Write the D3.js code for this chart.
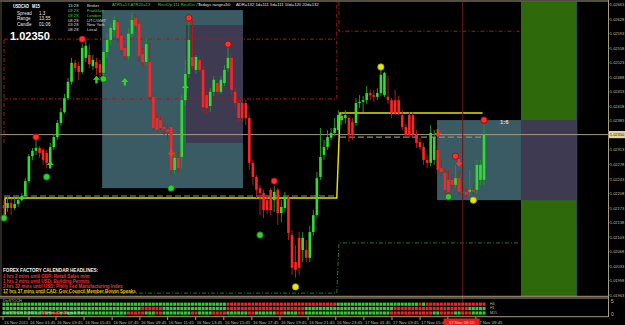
<!DOCTYPE html>
<html><head><meta charset="utf-8">
<script src="https://cdn.jsdelivr.net/npm/d3@7"></script>
<style>html,body{margin:0;padding:0;background:#000;overflow:hidden}svg{display:block}</style>
</head><body><svg id="c" width="625" height="325"></svg>
<script>
// ---------- DATA ----------
const symbol = "USDCAD", timeframe = "M15";
const open = [1.02180,1.02173,1.02185,1.02173,1.02183,1.02192,1.02202,1.02238,1.02298,1.02311,
1.02318,1.02313,1.02306,1.02282,1.02320,1.02344,1.02378,1.02404,1.02438,1.02477,
1.02523,1.02515,1.02501,1.02535,1.02542,1.02515,1.02525,1.02520,1.02499,1.02549,
1.02578,1.02602,1.02621,1.02588,1.02559,1.02539,1.02593,1.02631,1.02617,1.02544,
1.02525,1.02525,1.02441,1.02390,1.02385,1.02368,1.02363,1.02368,1.02265,1.02294,
1.02296,1.02433,1.02496,1.02537,1.02506,1.02530,1.02506,1.02445,1.02419,1.02453,
1.02474,1.02453,1.02474,1.02510,1.02535,1.02453,1.02426,1.02426,1.02426,1.02390,
1.02282,1.02248,1.02221,1.02209,1.02192,1.02217,1.02192,1.02217,1.02161,1.02173,
1.02197,1.02108,1.02043,1.02101,1.02072,1.02072,1.02053,1.02115,1.02156,1.02248,
1.02301,1.02320,1.02342,1.02354,1.02361,1.02385,1.02390,1.02390,1.02380,1.02378,
1.02426,1.02429,1.02433,1.02450,1.02445,1.02441,1.02450,1.02445,1.02441,1.02433,
1.02433,1.02433,1.02397,1.02368,1.02397,1.02397,1.02349,1.02332,1.02320,1.02289,
1.02282,1.02289,1.02313,1.02269,1.02258,1.02241,1.02241,1.02229,1.02245,1.02212,
1.02212,1.02212,1.02217,1.02217,1.02241,1.02241];
const high = [1.02192,1.02200,1.02195,1.02197,1.02202,1.02209,1.02245,1.02303,1.02318,1.02337,
1.02322,1.02318,1.02313,1.02330,1.02352,1.02385,1.02414,1.02448,1.02486,1.02535,
1.02530,1.02525,1.02568,1.02578,1.02568,1.02542,1.02535,1.02530,1.02554,1.02593,
1.02617,1.02636,1.02626,1.02597,1.02566,1.02607,1.02645,1.02641,1.02626,1.02559,
1.02583,1.02573,1.02445,1.02404,1.02395,1.02380,1.02373,1.02373,1.02308,1.02308,
1.02445,1.02530,1.02621,1.02626,1.02542,1.02539,1.02515,1.02458,1.02462,1.02491,
1.02486,1.02491,1.02518,1.02559,1.02542,1.02462,1.02433,1.02433,1.02433,1.02397,
1.02289,1.02253,1.02229,1.02217,1.02205,1.02221,1.02226,1.02221,1.02192,1.02212,
1.02205,1.02120,1.02084,1.02115,1.02115,1.02096,1.02130,1.02168,1.02260,1.02366,
1.02337,1.02361,1.02366,1.02390,1.02409,1.02404,1.02409,1.02397,1.02390,1.02438,
1.02445,1.02443,1.02467,1.02458,1.02458,1.02462,1.02506,1.02501,1.02491,1.02438,
1.02458,1.02443,1.02409,1.02376,1.02404,1.02404,1.02361,1.02342,1.02330,1.02301,
1.02373,1.02361,1.02349,1.02289,1.02269,1.02265,1.02253,1.02277,1.02265,1.02221,
1.02221,1.02265,1.02229,1.02289,1.02289,1.02373];
const low = [1.02139,1.02164,1.02156,1.02168,1.02176,1.02188,1.02197,1.02233,1.02289,1.02301,
1.02294,1.02277,1.02269,1.02274,1.02313,1.02337,1.02371,1.02400,1.02433,1.02470,
1.02501,1.02482,1.02496,1.02525,1.02510,1.02506,1.02494,1.02486,1.02491,1.02535,
1.02566,1.02588,1.02573,1.02542,1.02530,1.02530,1.02583,1.02602,1.02525,1.02513,
1.02518,1.02433,1.02356,1.02356,1.02361,1.02349,1.02337,1.02253,1.02255,1.02260,
1.02269,1.02421,1.02486,1.02506,1.02496,1.02501,1.02404,1.02400,1.02404,1.02443,
1.02445,1.02448,1.02467,1.02501,1.02445,1.02414,1.02380,1.02380,1.02373,1.02265,
1.02229,1.02197,1.02156,1.02149,1.02159,1.02156,1.02164,1.02132,1.02139,1.02164,
1.02096,1.02012,1.02004,1.02012,1.02043,1.02043,1.02043,1.02106,1.02149,1.02241,
1.02289,1.02313,1.02337,1.02347,1.02356,1.02373,1.02376,1.02332,1.02337,1.02371,
1.02414,1.02404,1.02424,1.02433,1.02429,1.02433,1.02443,1.02441,1.02424,1.02390,
1.02397,1.02397,1.02361,1.02342,1.02342,1.02342,1.02318,1.02313,1.02277,1.02269,
1.02274,1.02277,1.02253,1.02250,1.02205,1.02202,1.02217,1.02221,1.02202,1.02202,
1.02197,1.02202,1.02202,1.02207,1.02229,1.02229];
const close = [1.02173,1.02185,1.02173,1.02183,1.02192,1.02202,1.02238,1.02298,1.02311,1.02318,
1.02306,1.02289,1.02282,1.02320,1.02344,1.02378,1.02404,1.02438,1.02477,1.02523,
1.02510,1.02501,1.02559,1.02564,1.02520,1.02530,1.02510,1.02499,1.02549,1.02578,
1.02607,1.02626,1.02583,1.02554,1.02539,1.02593,1.02626,1.02612,1.02539,1.02525,
1.02568,1.02441,1.02366,1.02361,1.02366,1.02363,1.02356,1.02265,1.02294,1.02269,
1.02433,1.02496,1.02578,1.02515,1.02537,1.02506,1.02416,1.02414,1.02453,1.02482,
1.02453,1.02482,1.02506,1.02535,1.02458,1.02426,1.02390,1.02390,1.02390,1.02282,
1.02248,1.02217,1.02209,1.02168,1.02168,1.02168,1.02212,1.02161,1.02176,1.02200,
1.02113,1.02029,1.02024,1.02029,1.02101,1.02053,1.02115,1.02156,1.02245,1.02296,
1.02320,1.02344,1.02354,1.02366,1.02397,1.02395,1.02397,1.02349,1.02349,1.02426,
1.02429,1.02433,1.02450,1.02445,1.02441,1.02450,1.02494,1.02499,1.02433,1.02402,
1.02402,1.02402,1.02368,1.02349,1.02349,1.02349,1.02330,1.02320,1.02289,1.02282,
1.02354,1.02344,1.02265,1.02260,1.02217,1.02212,1.02229,1.02245,1.02212,1.02209,
1.02205,1.02217,1.02212,1.02277,1.02277,1.02350];

const priceTicks = [1.02663,1.02628,1.02593,1.02558,1.02523,1.02488,1.02453,1.02418,1.02383,
  1.02313,1.02278,1.02243,1.02208,1.02173,1.02138,1.02103,1.02068,1.02033,1.01998,1.01963];
const timeTickBars = [0,7.3,14.9,22.8,30.7,38.5,46.3,54.2,62.1,70,77.9,85.8,93.6,101.5,109.4,117.3,125.1,133];
const timeTickLabels = ["16 Nov 2011","16 Nov 01:45","16 Nov 03:45","16 Nov 05:45","16 Nov 07:45","16 Nov 09:45",
  "16 Nov 11:45","16 Nov 13:45","16 Nov 15:45","16 Nov 17:45","16 Nov 19:45","16 Nov 21:45","16 Nov 23:45",
  "17 Nov 01:45","17 Nov 03:45","17 Nov 05:45","17 Nov 07:45","17 Nov 09:45"];
const cursorBar = 129, cursorLabel = "17 Nov 08:15";

const sessionBoxes = [{from:27.6,to:67.2,hi:1.02650,lo:1.02221},{from:121.8,to:161.1,hi:1.02385,lo:1.02192}];
const overlapBoxes = [{from:51.2,to:67.2,hi:1.02614,lo:1.02330},{from:145.4,to:161.1,hi:1.02385,lo:1.02192}];
const futureZone = {from:145.4,to:161.1};

const resistanceLines = [
  [[0,1.02580],[93.6,1.02580]],
  [[0,1.02330],[0,1.02580]],
  [[0,1.02436],[93.6,1.02436],[93.6,1.02670]],
  [[94.2,1.02670],[94.2,1.02599],[145,1.02599]]];
const supportLines = [[[0,1.01968],[93.6,1.01968],[94.2,1.02089],[145,1.02089]]];
const pivotLines = [[[0,1.02202],[93.6,1.02202]],[[94.5,1.02344],[134.6,1.02344]]];
const dailyOpenLine = [[0.3,1.02144],[0.3,1.02197],[93.6,1.02197],[94.5,1.02402],[134.6,1.02402]];

const highDots = [[9,1.02344],[22,1.02580],[52,1.02631],[63,1.02568],[76,1.02238],[127,1.02298],[135,1.02385]];
const lowDots = [[0,1.02149],[12,1.02248],[28,1.02484],[47,1.02221],[72,1.02108],[125,1.02200]];
const extremeDots = [[82,1.01983],[106,1.02513],[132,1.02192]];
const buyArrows = [[13,1.02277],[26,1.02482],[34,1.02477],[51,1.02462]];
const sellArrows = [[47,1.02306],[122,1.02354],[128,1.02282]];

const riskReward = {bar:139.5, price:1.02375, text:"1:6"};

const ffHeader = "FOREX FACTORY CALENDAR HEADLINES:";
const ffLines = ["1 hrs 2 mins until GBP: Retail Sales m/m","1 hrs 2 mins until USD: Building Permits",
  "2 hrs 32 mins until USD: Philly Fed Manufacturing Index","17 hrs 37 mins until CAD: Gov Council Member Boivin Speaks"];
const ffImpact = ["high","high","high","medium"];

const infoLabels = ["Spread","Range","Candle"];
const infoValues = ["1.3","13.55","01:06"];
const clockTimes = ["15:28","09:28","08:28","08:28","03:28","08:28"];
const clockNames = ["Broker","Frankfurt","London","UTC/GMT","New York","Local"];
const clockOpen = [false,true,true,false,false,false];
const statusItems = ["ATR5=13  ATR20=13","RestUp 111  RestDn 73","Todays range=50","ADR=132  1d=111  5d=111  10d=120  20d=132"];

const panelName = "DivSTOCH";
const panelNote = "DivSTOCH 3 (M15): 355 Hist+Cnt Signal: Sell";
const panelRowNames = ["H4","H1","M15"];
const panelRuns = [
  [["g",63],["r",31],["g",23],["r",1],["g",1],["r",17]],
  [["g",39],["r",6],["g",18],["r",22],["g",25],["r",21],["g",5]],
  [["g",11],["r",1],["g",2],["r",2],["g",1],["r",1],["g",17],["r",5],["g",3],["r",2],["g",8],["r",2],["g",4],["r",4],
   ["g",6],["r",2],["g",6],["r",2],["g",4],["r",2],["g",24],["r",12],["g",2],["r",4],["g",2],["r",3],["g",4]]];
const panelTicks = ["5","0"];

// ---------- DRAW ----------
const svg = d3.select("#c");
const FONT = "'Liberation Sans', Arial, sans-serif";
const W = 625, plotR = 608, plotT = 1.5, plotB = 296;
const x = d3.scaleLinear().domain([0,135]).range([4,484]);
const y = d3.scaleLinear().domain([1.01963,1.02663]).range([295.2,4.7]);
const frameCol = "#a89c7e";

svg.append("rect").attr("width",W).attr("height",325).attr("fill","#000");
svg.append("defs").append("clipPath").attr("id","plot").append("rect")
  .attr("x",0).attr("y",plotT).attr("width",plotR).attr("height",plotB-plotT);
const g = svg.append("g").attr("clip-path","url(#plot)");

// future zone
g.append("rect").attr("x",x(futureZone.from)).attr("y",plotT).attr("width",x(futureZone.to)-x(futureZone.from))
  .attr("height",plotB-plotT).attr("fill","#2e690c");
g.append("line").attr("x1",x(futureZone.to)).attr("x2",x(futureZone.to)).attr("y1",plotT).attr("y2",plotB)
  .attr("stroke","#2b4a86").attr("stroke-width",1);

// session boxes
g.selectAll("rect.sess").data(sessionBoxes).join("rect")
  .attr("x",d=>x(d.from)).attr("y",d=>y(d.hi)).attr("width",d=>x(d.to)-x(d.from)).attr("height",d=>y(d.lo)-y(d.hi))
  .attr("fill","#3b5b64");
g.selectAll("rect.ovl").data(overlapBoxes).join("rect")
  .attr("x",d=>x(d.from)).attr("y",d=>y(d.hi)).attr("width",d=>x(d.to)-x(d.from)).attr("height",d=>y(d.lo)-y(d.hi))
  .attr("fill","#3e3a52");

const line = d3.line().x(d=>x(d[0])).y(d=>y(d[1]));
g.selectAll("path.res").data(resistanceLines).join("path").attr("d",line).attr("fill","none")
  .attr("stroke","#9c1c1c").attr("stroke-width",1).attr("stroke-dasharray","4,2,1,2");
g.selectAll("path.sup").data(supportLines).join("path").attr("d",line).attr("fill","none")
  .attr("stroke","#1c7a2c").attr("stroke-width",1).attr("stroke-dasharray","4,2,1,2");
g.selectAll("path.piv").data(pivotLines).join("path").attr("d",line).attr("fill","none")
  .attr("stroke","#8a8a8a").attr("stroke-width",1.2).attr("stroke-dasharray","6,3");
g.append("path").attr("d",line(dailyOpenLine)).attr("fill","none").attr("stroke","#e6e000").attr("stroke-width",1.5);

// current price line
const last = close[close.length-1];
g.append("line").attr("x1",0).attr("x2",plotR).attr("y1",y(last)).attr("y2",y(last))
  .attr("stroke","#a39a80").attr("stroke-width",1);
// cursor line
svg.append("line").attr("x1",x(cursorBar)).attr("x2",x(cursorBar)).attr("y1",plotT).attr("y2",317)
  .attr("stroke","#6e1515").attr("stroke-width",1);

// candles
const bars = open.map((o,i)=>({i,o,h:high[i],l:low[i],c:close[i],up:close[i]>=o}));
g.selectAll("line.wick").data(bars).join("line")
  .attr("x1",d=>x(d.i)).attr("x2",d=>x(d.i)).attr("y1",d=>y(d.h)).attr("y2",d=>y(d.l))
  .attr("stroke",d=>d.up?"#1d9a1d":"#b01c1c").attr("stroke-width",1);
g.selectAll("rect.body").data(bars).join("rect")
  .attr("x",d=>x(d.i)-1.3).attr("width",2.6)
  .attr("y",d=>y(Math.max(d.o,d.c))).attr("height",d=>Math.max(1,Math.abs(y(d.o)-y(d.c))))
  .attr("fill",d=>d.up?"#2fdc2f":"#ff2424");

// markers
function dots(data,fill,stroke){
  g.selectAll(null).data(data).join("circle").attr("cx",d=>x(d[0])).attr("cy",d=>y(d[1])).attr("r",3.2)
   .attr("fill",fill).attr("stroke",stroke).attr("stroke-width",0.8);
}
dots(highDots,"#ff3030","#a00000");
dots(lowDots,"#30d030","#107010");
dots(extremeDots,"#e8e810","#909000");
const upArrow = "M0,-4L3.6,0L1.2,0L1.2,3.6L-1.2,3.6L-1.2,0L-3.6,0Z";
g.selectAll(null).data(buyArrows).join("path").attr("d",upArrow)
  .attr("transform",d=>`translate(${x(d[0])},${y(d[1])})`).attr("fill","#30d030");
g.selectAll(null).data(sellArrows).join("path").attr("d",upArrow)
  .attr("transform",d=>`translate(${x(d[0])},${y(d[1])}) rotate(180)`).attr("fill","#ff3030");

g.append("text").attr("x",x(riskReward.bar)).attr("y",y(riskReward.price)).text(riskReward.text)
  .attr("font-family",FONT).attr("font-size",6).attr("font-weight","bold").attr("fill","#d8d8d8");

// ---------- text overlays ----------
const T = (sel,xx,yy,txt,size,col,bold,len)=>{
  const t = sel.append("text").attr("x",xx).attr("y",yy).text(txt)
    .attr("font-family",FONT).attr("font-size",size).attr("fill",col).attr("font-weight",bold?"bold":"normal");
  if(len) t.attr("textLength",len).attr("lengthAdjust","spacingAndGlyphs");
  return t;
};
T(svg,13,8,symbol,4.8,"#ffffff",true,16);
T(svg,32,8,timeframe,4.8,"#ffffff",true,8);
infoLabels.forEach((l,i)=>{T(svg,17,14.5+i*5.8,l,4.6,"#e8e8e8",false);T(svg,39,14.5+i*5.8,infoValues[i],4.6,"#e8e8e8",false);});
T(svg,10,39.5,d3.format(".5f")(last),11,"#ffffff",true);
clockTimes.forEach((t,i)=>{
  const c = clockOpen[i]?"#3cd23c":"#dcdcdc";
  T(svg,68,7.2+i*4.8,t,4.2,c,false); T(svg,87,7.2+i*4.8,clockNames[i],4.2,c,false);
});
const statusX=[112,158,198,236], statusC=["#3cc83c","#3cc83c","#e0e0e0","#e0e0e0"];
statusItems.forEach((s,i)=>T(svg,statusX[i],5.6,s,4.2,statusC[i],false));

T(svg,3,272,ffHeader,4.6,"#f0f0f0",true);
ffLines.forEach((s,i)=>T(svg,3,277.8+i*5.1,s,4.5,ffImpact[i]==="high"?"#ff2a2a":"#f0c000",true));

// ---------- frame ----------
svg.append("line").attr("x1",0).attr("x2",plotR).attr("y1",1).attr("y2",1).attr("stroke",frameCol);
svg.append("line").attr("x1",0).attr("x2",plotR).attr("y1",296.3).attr("y2",296.3).attr("stroke",frameCol);
svg.append("line").attr("x1",0).attr("x2",plotR).attr("y1",298).attr("y2",298).attr("stroke",frameCol);
svg.append("line").attr("x1",0).attr("x2",plotR).attr("y1",316.7).attr("y2",316.7).attr("stroke",frameCol);
svg.append("line").attr("x1",plotR+0.5).attr("x2",plotR+0.5).attr("y1",0).attr("y2",317).attr("stroke",frameCol);
svg.append("line").attr("x1",1).attr("x2",1).attr("y1",1).attr("y2",296).attr("stroke","#5a5240");

// price axis
const fmt = d3.format(".5f");
const ax = svg.append("g");
ax.selectAll("line").data(priceTicks).join("line").attr("x1",plotR).attr("x2",plotR+1.5)
  .attr("y1",d=>y(d)).attr("y2",d=>y(d)).attr("stroke",frameCol);
ax.selectAll("text").data(priceTicks).join("text").attr("x",609.8).attr("y",d=>y(d)+1.5).text(fmt)
  .attr("font-family",FONT).attr("font-size",4).attr("fill","#cbbd95");
svg.append("rect").attr("x",609).attr("y",y(last)-3.6).attr("width",16).attr("height",7.2).attr("fill","#e3d4a4");
T(svg,609.8,y(last)+1.5,fmt(last),4,"#202020",false);

// time axis
svg.selectAll("line.tt").data(timeTickBars).join("line").attr("x1",d=>x(d)-1).attr("x2",d=>x(d)-1)
  .attr("y1",317).attr("y2",320).attr("stroke",frameCol);
svg.selectAll("text.tt").data(timeTickBars).join("text").attr("x",d=>x(d)).attr("y",323.8)
  .text((d,i)=>timeTickLabels[i]).attr("font-family",FONT).attr("font-size",4.3).attr("fill","#cbbd95");
svg.append("rect").attr("x",x(cursorBar)-19).attr("y",318.5).attr("width",36).attr("height",6.5).attr("fill","#e81c1c");
svg.append("text").attr("x",x(cursorBar)-1).attr("y",323.8).attr("text-anchor","middle").text(cursorLabel)
  .attr("font-family",FONT).attr("font-size",4.3).attr("fill","#ffd0d0");

// ---------- indicator panel ----------
T(svg,3,302,panelName,3.8,"#b0b0b0",false);
const rowY=[302.6,307,311.4];
panelRuns.forEach((runs,r)=>{
  const cells=[]; runs.forEach(([c,n])=>{for(let k=0;k<n;k++)cells.push(c);});
  svg.selectAll(null).data(cells).join("rect").attr("x",(d,i)=>x(i)-1.5).attr("y",rowY[r])
    .attr("width",3).attr("height",3.2).attr("fill",d=>d==="g"?"#2ed02e":"#f02424");
});
T(svg,3,314,panelNote,4,"#c8c8c8",false);
panelRowNames.forEach((n,i)=>T(svg,490,305+i*4.4,n,3.6,"#b8b8b8",false));
T(svg,611,302.5,panelTicks[0],4.8,"#cbbd95",false);
T(svg,611,316.2,panelTicks[1],4.8,"#cbbd95",false);
</script></body></html>
